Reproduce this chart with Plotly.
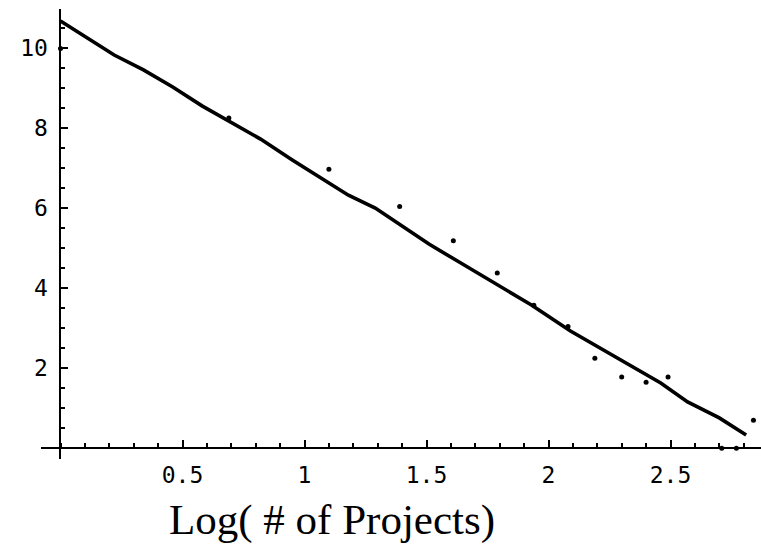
import plotly.graph_objects as go

# Data points (log # of projects, log frequency)
pts_x = [0.0, 0.69, 1.10, 1.39, 1.61, 1.79, 1.94, 2.08, 2.19, 2.30, 2.40, 2.49, 2.71, 2.77, 2.84]
pts_y = [9.98, 8.25, 6.97, 6.04, 5.18, 4.38, 3.57, 3.04, 2.25, 1.78, 1.65, 1.78, 0.0, 0.0, 0.70]

# Fitted curve vertices
fit_x = [0.0, 0.22, 0.34, 0.46, 0.58, 0.82, 0.95, 1.06, 1.18, 1.29, 1.39, 1.51, 1.62,
         1.79, 1.93, 2.09, 2.21, 2.35, 2.46, 2.57, 2.70, 2.81]
fit_y = [10.67, 9.82, 9.45, 9.02, 8.55, 7.72, 7.20, 6.77, 6.32, 6.00, 5.58, 5.10, 4.70,
         4.08, 3.58, 2.93, 2.50, 2.00, 1.63, 1.16, 0.76, 0.33]

x_ticks = [0.5, 1, 1.5, 2, 2.5]
x_ticktext = ["0.5", "1", "1.5", "2", "2.5"]
y_ticks = [2, 4, 6, 8, 10]
y_ticktext = ["2", "4", "6", "8", "10"]
x_title = "Log( # of Projects)"

x_range = [-0.0799, 2.8709]
y_range = [-0.267, 10.969]

fig = go.Figure()
fig.add_trace(go.Scatter(x=fit_x, y=fit_y, mode="lines",
                         line=dict(color="black", width=3.6), hoverinfo="skip"))
fig.add_trace(go.Scatter(x=pts_x, y=pts_y, mode="markers",
                         marker=dict(color="black", size=5), cliponaxis=False))

tick_font = dict(family="DejaVu Sans Mono", size=23, color="black")

fig.update_layout(
    width=761, height=545,
    margin=dict(l=41, r=0, t=9, b=86),
    paper_bgcolor="white", plot_bgcolor="white",
    showlegend=False,
    xaxis=dict(
        range=x_range, showgrid=False, zeroline=False,
        showline=True, linecolor="black", linewidth=2,
        anchor="free",
        position=(0 - y_range[0]) / (y_range[1] - y_range[0]),
        tickvals=x_ticks, ticktext=x_ticktext,
        ticks="inside", ticklen=7, tickwidth=2, tickcolor="black",
        tickfont=tick_font, ticklabelstandoff=6,
        minor=dict(dtick=0.1, tick0=0, ticks="inside", ticklen=4,
                   tickwidth=2, tickcolor="black"),
    ),
    yaxis=dict(
        range=y_range, showgrid=False, zeroline=False,
        showline=True, linecolor="black", linewidth=2,
        anchor="free",
        position=(0 - x_range[0]) / (x_range[1] - x_range[0]),
        tickvals=y_ticks, ticktext=y_ticktext,
        ticks="inside", ticklen=7, tickwidth=2, tickcolor="black",
        tickfont=tick_font, ticklabelstandoff=7,
        minor=dict(dtick=0.5, tick0=0, ticks="inside", ticklen=4,
                   tickwidth=2, tickcolor="black"),
    ),
    annotations=[dict(
        text=x_title, xref="paper", yref="paper",
        x=(332 - 41) / 720, y=(459 - 520) / 450,
        xanchor="center", yanchor="middle", showarrow=False,
        font=dict(family="Liberation Serif", size=43, color="black"),
    )],
)

fig.write_html("out.html")
